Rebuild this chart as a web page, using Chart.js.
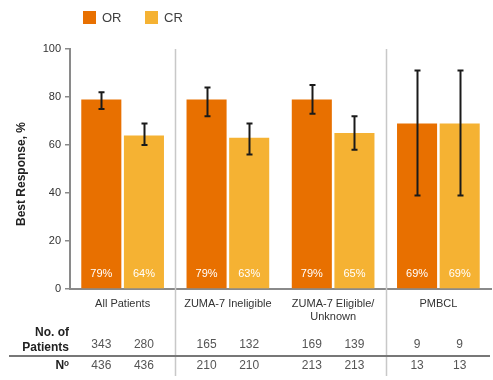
<!DOCTYPE html>
<html><head><meta charset="utf-8">
<script src="https://cdn.jsdelivr.net/npm/chart.js@4/dist/chart.umd.min.js"></script>
<style>html,body{margin:0;padding:0;background:#fff}#wrap{width:493px;height:380px}</style>
</head><body><div id="wrap"><canvas id="c" width="493" height="380"></canvas></div>
<script>
const categories = [["All Patients"], ["ZUMA-7 Ineligible"], ["ZUMA-7 Eligible/", "Unknown"], ["PMBCL"]];
const seriesNames = ["OR", "CR"];
const orValues = [79, 79, 79, 69];
const crValues = [64, 63, 65, 69];
const orLow = [75, 72, 73, 39];
const orHigh = [82, 84, 85, 91];
const crLow = [60, 56, 58, 39];
const crHigh = [69, 69, 72, 91];
const patientsOR = [343, 165, 169, 9];
const patientsCR = [280, 132, 139, 9];
const nOR = [436, 210, 213, 13];
const nCR = [436, 210, 213, 13];
const yTicks = [0, 20, 40, 60, 80, 100];

const colors = ["#E87000", "#F5B233"];
const FONT = "'Liberation Sans', Arial, sans-serif";

const overlay = {
  id: 'overlay',
  beforeDatasetsDraw(chart) {
    const ctx = chart.ctx, x = chart.scales.x, area = chart.chartArea;
    ctx.save();
    ctx.strokeStyle = '#c8c8c8'; ctx.lineWidth = 1.5;
    [[0,1],[2,3]].forEach(([a,b]) => {
      const px = Math.round((x.getPixelForTick(a) + x.getPixelForTick(b)) / 2) + 0.5;
      ctx.beginPath(); ctx.moveTo(px, area.top); ctx.lineTo(px, 376); ctx.stroke();
    });
    ctx.restore();
  },
  afterDatasetsDraw(chart) {
    const ctx = chart.ctx, y = chart.scales.y;
    ctx.save();
    const lows = [orLow, crLow], highs = [orHigh, crHigh], vals = [orValues, crValues];
    chart.data.datasets.forEach((ds, di) => {
      const meta = chart.getDatasetMeta(di);
      meta.data.forEach((bar, i) => {
        const cx = Math.round(bar.x) + 0.5;
        const yl = y.getPixelForValue(lows[di][i]), yh = y.getPixelForValue(highs[di][i]);
        ctx.strokeStyle = '#1a1a1a'; ctx.lineWidth = 2;
        ctx.beginPath(); ctx.moveTo(cx, yl); ctx.lineTo(cx, yh); ctx.stroke();
        ctx.beginPath(); ctx.moveTo(cx - 3, yl); ctx.lineTo(cx + 3, yl);
        ctx.moveTo(cx - 3, yh); ctx.lineTo(cx + 3, yh); ctx.stroke();
        ctx.fillStyle = '#ffffff';
        ctx.font = '11px ' + FONT;
        ctx.textAlign = 'center'; ctx.textBaseline = 'middle';
        ctx.fillText(vals[di][i] + '%', bar.x, 274);
      });
    });
    ctx.restore();
  },
  afterDraw(chart) {
    const ctx = chart.ctx;
    ctx.save();
    // legend
    ctx.font = '13px ' + FONT; ctx.textBaseline = 'middle'; ctx.textAlign = 'left';
    const lx = [83, 145];
    seriesNames.forEach((n, i) => {
      ctx.fillStyle = colors[i]; ctx.fillRect(lx[i], 11, 13, 13);
      ctx.fillStyle = '#404040'; ctx.fillText(n, lx[i] + 19, 18);
    });
    // y title
    ctx.save();
    ctx.translate(22, 174); ctx.rotate(-Math.PI / 2);
    ctx.font = 'bold 12px ' + FONT; ctx.fillStyle = '#222'; ctx.textAlign = 'center';
    ctx.fillText('Best Response, %', 0, 0);
    ctx.restore();
    // table
    ctx.fillStyle = '#222'; ctx.font = 'bold 12px ' + FONT; ctx.textAlign = 'right';
    ctx.fillText('No. of', 69, 333);
    ctx.fillText('Patients', 69, 348);
    ctx.fillText('N\u1D52', 69, 366);
    ctx.strokeStyle = '#777'; ctx.lineWidth = 2;
    ctx.beginPath(); ctx.moveTo(9, 356); ctx.lineTo(490, 356); ctx.stroke();
    ctx.font = '12px ' + FONT; ctx.fillStyle = '#555'; ctx.textAlign = 'center';
    const pRows = [patientsOR, patientsCR], nRows = [nOR, nCR];
    [0, 1].forEach(di => {
      chart.getDatasetMeta(di).data.forEach((bar, i) => {
        ctx.fillText(String(pRows[di][i]), bar.x, 345);
        ctx.fillText(String(nRows[di][i]), bar.x, 366);
      });
    });
    ctx.restore();
  }
};

new Chart(document.getElementById('c'), {
  type: 'bar',
  data: {
    labels: categories,
    datasets: [
      { label: seriesNames[0], data: orValues, backgroundColor: colors[0] },
      { label: seriesNames[1], data: crValues, backgroundColor: colors[1] }
    ]
  },
  options: {
    responsive: false, animation: false,
    layout: { padding: { top: 49, right: 2, left: 0, bottom: 0 } },
    datasets: { bar: { categoryPercentage: 0.81, barPercentage: 0.94 } },
    plugins: { legend: { display: false }, tooltip: { enabled: false } },
    scales: {
      x: {
        grid: { display: false },
        border: { display: true, color: '#8a8a8a', width: 2 },
        ticks: { font: { family: FONT, size: 11 }, color: '#333', padding: 0, maxRotation: 0, autoSkip: false },
        afterFit(s) { s.height = 91; }
      },
      y: {
        min: 0, max: 100,
        afterBuildTicks(s) { s.ticks = yTicks.map(v => ({ value: v })); },
        grid: { drawOnChartArea: false, drawTicks: true, tickLength: 5, color: '#8a8a8a', lineWidth: 1.5 },
        border: { display: true, color: '#8a8a8a', width: 2 },
        ticks: { font: { family: FONT, size: 11 }, color: '#333', padding: 4 },
        afterFit(s) { s.width = 70; }
      }
    }
  },
  plugins: [overlay]
});
</script></body></html>
